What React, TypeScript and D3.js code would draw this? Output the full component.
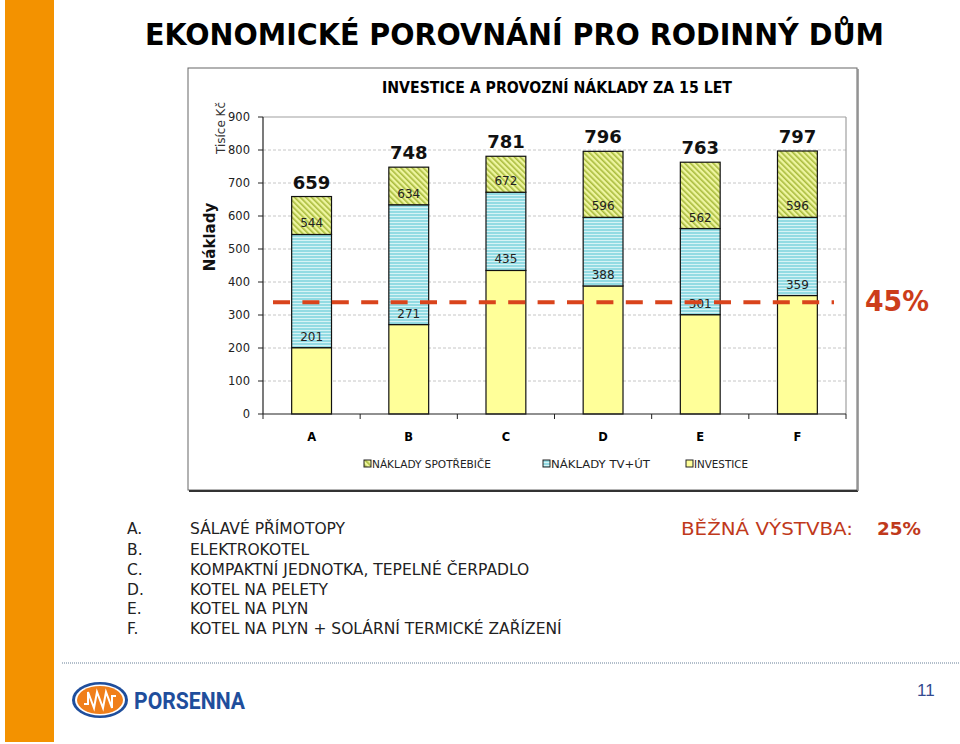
import React from "react";
import * as d3 from "d3";

const categories = ["A", "B", "C", "D", "E", "F"];
const investice = [201, 271, 435, 388, 301, 359];
const nakladyTvUt = [343, 363, 237, 208, 261, 237];
const nakladySpotrebice = [115, 114, 109, 200, 201, 201];
const yTicks = [0, 100, 200, 300, 400, 500, 600, 700, 800, 900];
const referenceValue = 339;
const seriesNames = ["INVESTICE", "NÁKLADY TV+ÚT", "NÁKLADY SPOTŘEBIČE"];
const legendOrder = ["NÁKLADY SPOTŘEBIČE", "NÁKLADY TV+ÚT", "INVESTICE"];
const listLetters = ["A.", "B.", "C.", "D.", "E.", "F."];
const listTexts = [
  "SÁLAVÉ PŘÍMOTOPY",
  "ELEKTROKOTEL",
  "KOMPAKTNÍ JEDNOTKA, TEPELNÉ ČERPADLO",
  "KOTEL NA PELETY",
  "KOTEL NA PLYN",
  "KOTEL NA PLYN + SOLÁRNÍ TERMICKÉ ZAŘÍZENÍ",
];

const FONT = "'DejaVu Sans', 'Open Sans', sans-serif";

export default function App() {
  const left = 263, right = 846, top = 117, bottom = 414;
  const x = d3.scaleBand<string>().domain(categories).range([left, right]).paddingInner(0.59).paddingOuter(0.295);
  const xOuter = d3.scaleBand<string>().domain(categories).range([left, right]);
  const y = d3.scaleLinear().domain([0, 900]).range([bottom, top]);

  const rows = categories.map((c, i) => ({
    cat: c,
    "INVESTICE": investice[i],
    "NÁKLADY TV+ÚT": nakladyTvUt[i],
    "NÁKLADY SPOTŘEBIČE": nakladySpotrebice[i],
  }));
  const stack = d3.stack<any>().keys(seriesNames);
  const stacked = stack(rows);

  const fills: Record<string, string> = {
    "INVESTICE": "#ffff99",
    "NÁKLADY TV+ÚT": "url(#hstripe)",
    "NÁKLADY SPOTŘEBIČE": "url(#diag)",
  };

  const legendX: Record<string, number> = {
    "NÁKLADY SPOTŘEBIČE": 364,
    "NÁKLADY TV+ÚT": 543,
    "INVESTICE": 686,
  };
  const legendW: Record<string, number> = {
    "NÁKLADY SPOTŘEBIČE": 119,
    "NÁKLADY TV+ÚT": 99,
    "INVESTICE": 54,
  };

  const listY = [528, 549, 569, 589, 608, 628];

  return (
    <svg width={960} height={744} style={{ position: "absolute", left: 0, top: 0, background: "#fff" }} fontFamily={FONT}>
      <defs>
        <pattern id="diag" patternUnits="userSpaceOnUse" width={4} height={4} patternTransform="rotate(-45)">
          <rect width={4} height={4} fill="#eef5a0" />
          <rect width={1.6} height={4} fill="#a9bb3c" />
        </pattern>
        <pattern id="hstripe" patternUnits="userSpaceOnUse" width={4} height={3}>
          <rect width={4} height={3} fill="#93dbe3" />
          <rect width={4} height={1} fill="#d6f3f5" />
        </pattern>
      </defs>
      <rect x={0} y={0} width={960} height={744} fill="#fff" />
      {/* orange side bar */}
      <rect x={5} y={0} width={49} height={742} fill="#f39200" />

      {/* Main title */}
      <text x={145} y={45} fontSize={30} fontWeight="bold" fill="#000" textLength={739} lengthAdjust="spacingAndGlyphs">
        EKONOMICKÉ POROVNÁNÍ PRO RODINNÝ DŮM
      </text>

      {/* chart frame */}
      <rect x={188} y={68} width={669} height={422} fill="#fff" stroke="#666" strokeWidth={1} />
      <line x1={189} y1={491} x2={858} y2={491} stroke="#333" strokeWidth={2} />
      <line x1={858} y1={69} x2={858} y2={491} stroke="#888" strokeWidth={1.5} />

      <text x={557} y={93} fontSize={15} fontWeight="bold" textAnchor="middle" textLength={350} lengthAdjust="spacingAndGlyphs">
        INVESTICE A PROVOZNÍ NÁKLADY ZA 15 LET
      </text>

      {/* gridlines */}
      {yTicks.filter((t) => t > 0 && t < 900).map((t) => (
        <line key={t} x1={left} x2={right} y1={y(t)} y2={y(t)} stroke="#b8b8b8" strokeWidth={0.8} strokeDasharray="3,2" />
      ))}
      {/* plot border top/right */}
      <line x1={left} x2={right} y1={y(900)} y2={y(900)} stroke="#a0a0a0" strokeWidth={1.2} />
      <line x1={right} x2={right} y1={y(900)} y2={bottom} stroke="#a0a0a0" strokeWidth={1.2} />

      {/* bars */}
      {stacked.map((s) =>
        s.map((d, i) => (
          <rect
            key={s.key + i}
            x={x(categories[i])}
            y={y(d[1])}
            width={x.bandwidth()}
            height={y(d[0]) - y(d[1])}
            fill={fills[s.key]}
            stroke="#111"
            strokeWidth={1.2}
          />
        ))
      )}

      {/* segment boundary labels */}
      {stacked.slice(0, 2).map((s) =>
        s.map((d, i) => (
          <text
            key={"l" + s.key + i}
            x={(x(categories[i]) as number) + x.bandwidth() / 2}
            y={y(d[1]) - 7}
            fontSize={12}
            textAnchor="middle"
            fill="#222"
          >
            {d[1]}
          </text>
        ))
      )}
      {/* totals */}
      {stacked[2].map((d, i) => (
        <text
          key={"t" + i}
          x={(x(categories[i]) as number) + x.bandwidth() / 2}
          y={y(d[1]) - 8}
          fontSize={18}
          fontWeight="bold"
          textAnchor="middle"
          fill="#111"
        >
          {d[1]}
        </text>
      ))}

      {/* axes */}
      <line x1={left} x2={left} y1={top} y2={bottom} stroke="#222" strokeWidth={1.2} />
      <line x1={left} x2={right} y1={bottom} y2={bottom} stroke="#222" strokeWidth={1.2} />
      {yTicks.map((t) => (
        <g key={"yt" + t}>
          <line x1={left - 5} x2={left} y1={y(t)} y2={y(t)} stroke="#222" />
          <text x={250} y={y(t) + 4} fontSize={11.5} textAnchor="end" fill="#222">
            {t}
          </text>
        </g>
      ))}
      {categories.map((c, i) => (
        <line key={"xt" + i} x1={xOuter(c)} x2={xOuter(c)} y1={bottom} y2={bottom + 5} stroke="#222" />
      ))}
      <line x1={right} x2={right} y1={bottom} y2={bottom + 5} stroke="#222" />
      {categories.map((c) => (
        <text key={"xl" + c} x={(x(c) as number) + x.bandwidth() / 2} y={441} fontSize={11.5} fontWeight="bold" textAnchor="middle">
          {c}
        </text>
      ))}

      <text transform="translate(225,128) rotate(-90)" fontSize={12} textAnchor="middle" fill="#333">
        Tisíce Kč
      </text>
      <text transform="translate(215,237) rotate(-90)" fontSize={15} fontWeight="bold" textAnchor="middle" fill="#111">
        Náklady
      </text>

      {/* reference line */}
      <line x1={273} x2={834} y1={y(referenceValue)} y2={y(referenceValue)} stroke="#d9441c" strokeWidth={4} strokeDasharray="17,12.4" />
      <text x={865} y={311} fontSize={29} fontWeight="bold" fill="#cc3d1a" textLength={64} lengthAdjust="spacingAndGlyphs">
        45%
      </text>

      {/* legend */}
      {legendOrder.map((k) => (
        <g key={"lg" + k}>
          <rect x={legendX[k]} y={460} width={7} height={7} fill={fills[k]} stroke="#222" strokeWidth={1} />
          <text x={legendX[k] + 8} y={468} fontSize={11} fill="#222" textLength={legendW[k]} lengthAdjust="spacingAndGlyphs">
            {k}
          </text>
        </g>
      ))}

      {/* list */}
      {listTexts.map((t, i) => (
        <g key={"li" + i}>
          <text x={127} y={listY[i] + 6} fontSize={15.5} fill="#222">
            {listLetters[i]}
          </text>
          <text x={190} y={listY[i] + 6} fontSize={15.5} fill="#222">
            {t}
          </text>
        </g>
      ))}
      <text x={681} y={535} fontSize={18} fill="#c0391b" textLength={172} lengthAdjust="spacingAndGlyphs">
        BĚŽNÁ VÝSTVBA:
      </text>
      <text x={877} y={535} fontSize={18} fontWeight="bold" fill="#c0391b" textLength={44} lengthAdjust="spacingAndGlyphs">
        25%
      </text>

      {/* footer */}
      <line x1={62} x2={960} y1={663} y2={663} stroke="#9aaabb" strokeWidth={1.5} strokeDasharray="1,1" />
      <g>
        <ellipse cx={100} cy={700} rx={28} ry={18} fill="#1f4e9c" />
        <ellipse cx={100} cy={700} rx={25} ry={15.5} fill="#fff" />
        <ellipse cx={100} cy={700} rx={23} ry={14} fill="#f07f1a" />
        <path d="M84,704 L88,704 L88,692 L94,708 L97,692 L103,708 L106,692 L112,708 L112,696 L116,696" fill="none" stroke="#fff" strokeWidth={2} />
      </g>
      <text x={134} y={709} fontSize={23} fontWeight="bold" fill="#1f4e9c" fontFamily="'Liberation Sans Narrow', 'Roboto', sans-serif" textLength={111} lengthAdjust="spacingAndGlyphs">
        PORSENNA
      </text>
      <text x={917} y={696} fontSize={17} fill="#344a90" fontFamily="'Liberation Sans Narrow', 'Liberation Sans', sans-serif">
        11
      </text>
    </svg>
  );
}
